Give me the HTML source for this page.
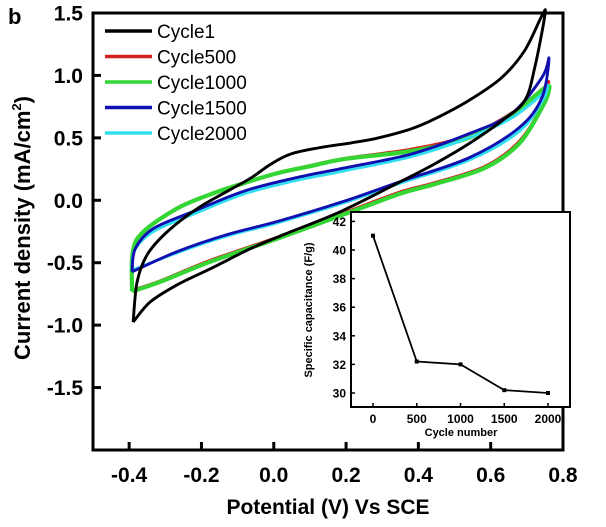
<!DOCTYPE html>
<html><head><meta charset="utf-8"><style>
body{margin:0;background:#fff;}
svg text{font-family:"Liberation Sans",Arial,sans-serif;font-weight:bold;fill:#000;}
</style></head><body>
<svg id="chart" width="606" height="522" xmlns="http://www.w3.org/2000/svg">
<text x="8" y="24" font-size="22">b</text>
<g id="main"></g>
<g id="inset"></g>
</svg>
<script>
// Main chart data (Potential V, Current mA/cm2) - loop traced
const xTicks = [-0.4,-0.2,0.0,0.2,0.4,0.6,0.8];
const yTicks = [-1.5,-1.0,-0.5,0.0,0.5,1.0,1.5];
const seriesNames = ["Cycle1","Cycle500","Cycle1000","Cycle1500","Cycle2000"];
const seriesColors = ["#000000","#d42020","#33d633","#1010b0","#30e0f0"];
const cycle1V = [-0.389,-0.378,-0.35,-0.294,-0.211,-0.128,-0.064,-0.008,0.047,0.122,0.214,0.289,0.381,0.444,0.539,0.631,0.694,0.742,0.75,0.722,0.694,0.631,0.539,0.444,0.353,0.186,0.028,-0.064,-0.175,-0.267,-0.342,-0.389];
const cycle1I = [-0.976,-0.653,-0.435,-0.25,-0.065,0.073,0.177,0.29,0.371,0.419,0.46,0.5,0.573,0.65,0.798,0.984,1.2,1.48,1.484,1.065,0.798,0.637,0.452,0.29,0.153,-0.089,-0.274,-0.387,-0.548,-0.677,-0.815,-0.976];
const cycle500V = [-0.392,-0.39,-0.36,-0.267,-0.175,-0.083,0.011,0.103,0.194,0.381,0.539,0.658,0.75,0.758,0.742,0.678,0.583,0.444,0.353,0.194,0.011,-0.175,-0.314,-0.392];
const cycle500I = [-0.72,-0.41,-0.25,-0.06,0.05,0.14,0.22,0.28,0.335,0.41,0.52,0.7,0.91,0.94,0.76,0.47,0.27,0.14,0.07,-0.1,-0.295,-0.48,-0.645,-0.72];
const cycle1000V = [-0.392,-0.39,-0.36,-0.267,-0.175,-0.083,0.011,0.103,0.194,0.381,0.539,0.658,0.75,0.761,0.742,0.678,0.583,0.444,0.353,0.194,0.011,-0.175,-0.314,-0.392];
const cycle1000I = [-0.73,-0.41,-0.25,-0.065,0.048,0.137,0.218,0.274,0.33,0.395,0.5,0.69,0.9,0.88,0.742,0.452,0.258,0.129,0.056,-0.113,-0.306,-0.492,-0.653,-0.73];
const cycle1500V = [-0.392,-0.383,-0.333,-0.222,-0.083,0.056,0.194,0.381,0.539,0.658,0.742,0.761,0.742,0.678,0.539,0.353,0.194,0.011,-0.128,-0.267,-0.392];
const cycle1500I = [-0.573,-0.387,-0.226,-0.089,0.073,0.177,0.258,0.371,0.532,0.694,0.984,1.137,0.823,0.58,0.339,0.153,-0.008,-0.169,-0.274,-0.411,-0.573];
const cycle2000V = [-0.392,-0.385,-0.333,-0.222,-0.083,0.056,0.194,0.381,0.539,0.658,0.742,0.758,0.742,0.678,0.539,0.353,0.194,0.011,-0.128,-0.267,-0.392];
const cycle2000I = [-0.56,-0.4,-0.25,-0.11,0.05,0.155,0.235,0.35,0.5,0.66,0.85,0.92,0.79,0.55,0.32,0.14,-0.02,-0.18,-0.285,-0.42,-0.56];
// Inset data
const insetCycles = [0,500,1000,1500,2000];
const insetCap = [41,32.2,32.0,30.2,30.0];
const insetXTicks = [0,500,1000,1500,2000];
const insetYTicks = [30,32,34,36,38,40,42];

const NS="http://www.w3.org/2000/svg";
function mk(tag,attrs,parent){const e=document.createElementNS(NS,tag);for(const k in attrs)e.setAttribute(k,attrs[k]);parent.appendChild(e);return e;}
const X0=93,X1=563,Y0=13,Y1=450;
const xs=v=>X0+(v+0.5)/1.3*(X1-X0);
const ys=v=>Y1-(v+2.0)/3.5*(Y1-Y0);
const main=document.getElementById('main');

function smooth(pts){
  let d=`M${pts[0][0]},${pts[0][1]}`;
  for(let i=0;i<pts.length-1;i++){
    const p0=pts[Math.max(0,i-1)],p1=pts[i],p2=pts[i+1],p3=pts[Math.min(pts.length-1,i+2)];
    const c1=[p1[0]+(p2[0]-p0[0])/6,p1[1]+(p2[1]-p0[1])/6];
    const c2=[p2[0]-(p3[0]-p1[0])/6,p2[1]-(p3[1]-p1[1])/6];
    d+=` C${c1[0].toFixed(1)},${c1[1].toFixed(1)} ${c2[0].toFixed(1)},${c2[1].toFixed(1)} ${p2[0].toFixed(1)},${p2[1].toFixed(1)}`;
  }
  return d;
}
const allV=[cycle1V,cycle500V,cycle1000V,cycle1500V,cycle2000V];
const allI=[cycle1I,cycle500I,cycle1000I,cycle1500I,cycle2000I];
const order=[1,2,4,3,0];
for(const s of order){
  const pts=allV[s].map((v,i)=>[xs(v),Math.max(Y0,ys(allI[s][i]))]);
  const p=mk('path',{d:smooth(pts),fill:'none',stroke:seriesColors[s],'stroke-width':s===2?4.2:2.9,'stroke-linejoin':'round'},main);
  
  
}
const box=mk('rect',{x:X0,y:Y0,width:X1-X0,height:Y1-Y0,fill:'none',stroke:'#000','stroke-width':3},main);


xTicks.forEach(t=>{
  const x=xs(t);
  const l=mk('line',{x1:x,x2:x,y1:Y1,y2:Y1-8,stroke:'#000','stroke-width':3},main);
  
  
  const tx=mk('text',{x:x,y:Y1+32,'font-size':21,'text-anchor':'middle'},main);
  tx.textContent=t.toFixed(1);
  
  
});
yTicks.forEach(t=>{
  const y=ys(t);
  const l=mk('line',{x1:X0,x2:X0+8,y1:y,y2:y,stroke:'#000','stroke-width':3},main);
  
  
  const tx=mk('text',{x:83,y:y+7.5,'font-size':21,'text-anchor':'end'},main);
  tx.textContent=t.toFixed(1);
  
  
});
const xt=mk('text',{x:328,y:514,'font-size':21,'text-anchor':'middle'},main);
xt.textContent='Potential (V) Vs SCE';


const yt=mk('text',{x:0,y:0,'font-size':22,'text-anchor':'middle',transform:'translate(30,228) rotate(-90)'},main);
yt.innerHTML='Current density (mA/cm<tspan font-size="13" dy="-9">2</tspan><tspan dy="9">)</tspan>';


seriesNames.forEach((n,i)=>{
  const y=31+i*25.5;
  const g=mk('g',{},main);
  
  
  mk('line',{x1:105,x2:152,y1:y,y2:y,stroke:seriesColors[i],'stroke-width':3.5},g);
  const t=mk('text',{x:157,y:y+7,'font-size':19},g);
  t.style.fontWeight='normal';
  t.textContent=n;
});
const ins=document.getElementById('inset');
const IX0=351,IX1=570,IY0=212,IY1=407;
const ixs=v=>373+v/500*43.75;
const iys=v=>393-(v-30)*14.3;
const ib=mk('rect',{x:IX0,y:IY0,width:IX1-IX0,height:IY1-IY0,fill:'#fff',stroke:'#000','stroke-width':2},ins);


insetXTicks.forEach(t=>{
  const x=ixs(t);
  const l=mk('line',{x1:x,x2:x,y1:IY1,y2:IY1-4,stroke:'#000','stroke-width':1.5},ins);
  
  
  const tx=mk('text',{x:x,y:IY1+16,'font-size':12,'text-anchor':'middle'},ins);
  tx.textContent=t;
  
  
});
insetYTicks.forEach(t=>{
  const y=iys(t);
  const l=mk('line',{x1:IX0,x2:IX0+4,y1:y,y2:y,stroke:'#000','stroke-width':1.5},ins);
  
  
  const tx=mk('text',{x:IX0-5,y:y+4.5,'font-size':12,'text-anchor':'end'},ins);
  tx.textContent=t;
  
  
});
const ipts=insetCycles.map((c,i)=>`${ixs(c)},${iys(insetCap[i])}`).join(' ');
const il=mk('polyline',{points:ipts,fill:'none',stroke:'#000','stroke-width':1.8},ins);


insetCycles.forEach((c,i)=>{
  const r=mk('rect',{x:ixs(c)-2,y:iys(insetCap[i])-2,width:4,height:4,fill:'#000'},ins);
  
  
});
const ixt=mk('text',{x:461,y:436,'font-size':11,'text-anchor':'middle'},ins);
ixt.textContent='Cycle number';


const iyt=mk('text',{x:0,y:0,'font-size':11,'text-anchor':'middle',transform:'translate(312,310) rotate(-90)'},ins);
iyt.textContent='Specific capacitance (F/g)';


</script>
</body></html>
